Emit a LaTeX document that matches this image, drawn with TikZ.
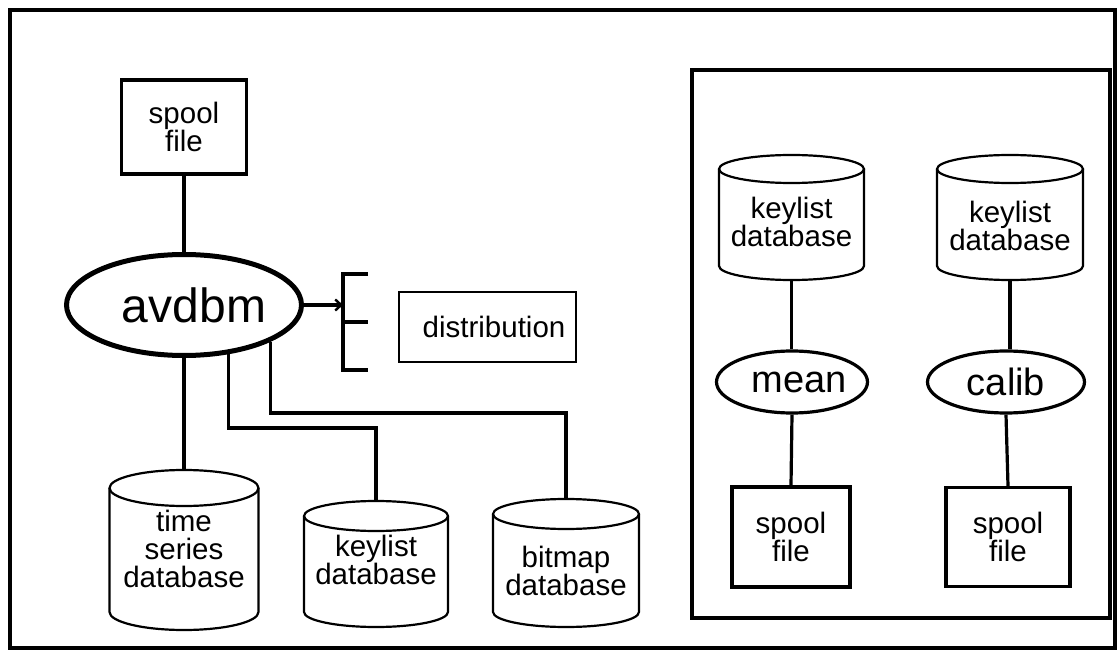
\documentclass[tikz,border=0pt]{standalone}
\usepackage{fontspec}
\setmainfont{Liberation Sans}
\usetikzlibrary{arrows.meta,calc,shapes.geometric}
\newcommand{\lblfont}{\fontsize{29.5}{28}\selectfont}
% name, cx, top (image y), rx, ry, side bottom (image y)
\newcommand{\dbcyl}[6]{%
  \draw[cylline] (#2,-#3-#5) ellipse [x radius=#4, y radius=#5];
  \draw[cylline] (#2-#4,-#3-#5) -- (#2-#4,-#6) arc[start angle=180,end angle=360,x radius=#4,y radius=#5] -- (#2+#4,-#3-#5);
  \coordinate (#1-top) at (#2,-#3);
  \coordinate (#1-bot) at (#2,-#6-#5);
}
\begin{document}
\begin{tikzpicture}[x=1pt,y=1pt,
  conn/.style={line width=3.2pt},
  boxnode/.style={draw, line width=3.2pt, inner sep=0pt, align=center, font=\lblfont},
  procnode/.style={draw, ellipse, line width=3.2pt, inner sep=0pt, font=\fontsize{38}{38}\selectfont},
  cylline/.style={line width=2.2pt},
  txt/.style={align=center, inner sep=0pt, font=\lblfont},
  >={Straight Barb[length=6pt,width=11pt,line width=2.4pt]}]
\useasboundingbox (0,0) rectangle (1119,-652);
% frames
\draw[line width=3.8pt] (10,-10) rectangle (1115,-648);
\draw[line width=3.2pt] (692,-70) rectangle (1110,-618);

% left part
\node[boxnode, minimum width=125pt, minimum height=94pt] (sp0) at (184,-127) {spool\\file};
\node[procnode, line width=5pt, minimum width=235pt, minimum height=101pt,
      font=\fontsize{48}{48}\selectfont] (avdbm) at (184,-305) {\makebox[0pt]{\hspace{20pt}avdbm}};
\node[boxnode, line width=2.8pt, minimum width=177pt, minimum height=70pt] (dist) at (487.5,-327)
      {\makebox[0pt]{\hspace{13pt}distribution}};

\coordinate (br) at (343,-305);
\draw[conn] (368,-274) -- (343,-274) -- (343,-370) -- (368,-370);
\draw[conn] (343,-322) -- (368,-322);

\dbcyl{ts}{184}{470}{74.5}{18}{612}
\dbcyl{kl}{376}{501}{72}{15}{612}
\dbcyl{bm}{566}{499}{73}{15}{612}
\node[txt] (tst) at (184,-549) {time\\series\\database};
\node[txt] (klt) at (376,-560) {keylist\\database};
\node[txt] (bmt) at (566,-571) {bitmap\\database};

\draw[conn] (sp0.south) -- (avdbm.north);
\draw[conn,->] (avdbm.east) -- (br);
\draw[conn] (avdbm.south) -- (ts-top);
\draw[conn] (avdbm.-48) -- (avdbm.-48 |- 0,-428) -| (kl-top);
\draw[conn] (avdbm.-23) -- (avdbm.-23 |- 0,-413) -| (bm-top);

% right part
\dbcyl{k1}{791.5}{155}{72.5}{14}{266}
\dbcyl{k2}{1010}{155}{73}{14}{266}
\node[txt] (k1t) at (791.5,-222) {keylist\\database};
\node[txt] (k2t) at (1010,-226) {keylist\\database};
\node[procnode, minimum width=151pt, minimum height=62pt] (mean) at (792,-382) {\makebox[0pt]{\hspace{14pt}mean}};
\node[procnode, minimum width=157pt, minimum height=62pt] (calib) at (1006,-382) {calib};
\node[boxnode, minimum width=118pt, minimum height=100pt] (sp1) at (791,-537) {spool\\file};
\node[boxnode, minimum width=124pt, minimum height=99pt] (sp2) at (1008,-537) {spool\\file};

\draw[conn] (k1-bot) -- (k1-bot |- mean.north);
\draw[conn] (k2-bot) -- (k2-bot |- calib.north);
\draw[conn] (mean.south) -- (sp1.north);
\draw[conn] (calib.south) -- (sp2.north);
\end{tikzpicture}
\end{document}
